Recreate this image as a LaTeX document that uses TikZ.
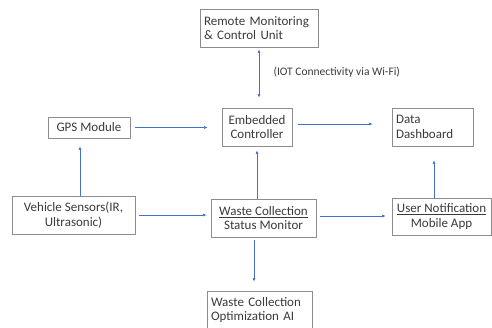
\documentclass[tikz,border=0pt]{standalone}
\usepackage{fontspec}
\setmainfont{Carlito}
\usepackage{xcolor}
\usepackage{tikz}
\usetikzlibrary{arrows.meta}
\definecolor{boxgray}{HTML}{8C8C8C}
\definecolor{txtgray}{HTML}{3A3A3A}
\definecolor{linkblue}{HTML}{4472C4}

\begin{document}
\begin{tikzpicture}[x=1pt, y=-1pt, font=\fontsize{13}{14.5}\selectfont, text=txtgray,
    blk/.style={draw=boxgray, line width=0.8pt, minimum height=38pt, inner sep=4pt, align=center},
    blkl/.style={blk, align=left},
    link/.style={draw=linkblue, line width=0.6pt, -{Latex[length=3.5pt,width=3pt]}},
    twoway/.style={link, {Latex[length=3.5pt,width=3pt]}-{Latex[length=3.5pt,width=3pt]}}]
    % canvas 492 x 327 px, y runs down
    \useasboundingbox (0,0) rectangle (492,327);
    % top row
    \node[blkl, text width=110pt] (remote) at (259,28) {Remote Monitoring\\\& Control Unit};
    \node[anchor=west, font=\fontsize{11.5}{13}\selectfont] (iot) at (270,72) {(IOT Connectivity via Wi-Fi)};
    % middle row
    \node[blk, minimum width=82pt, minimum height=21pt] (gps) at (89,127.5) {GPS Module};
    \node[blk, minimum width=70pt] (ctrl) at (257,127) {Embedded\\Controller};
    \node[blkl, text width=73pt] (dash) at (432.5,127) {Data\\Dashboard};
    % bottom row
    \node[blk, minimum width=123pt] (veh) at (73.5,215) {Vehicle Sensors(IR,\\Ultrasonic)};
    \node[blk, minimum width=105pt] (waste) at (263.5,218) {\underline{Waste Collection}\\Status Monitor};
    \node[blk, minimum width=99pt, minimum height=37pt] (user) at (441.5,216.5) {\underline{User Notification}\\Mobile App};
    \node[blkl, text width=97pt] (ai) at (259.5,310) {Waste Collection\\Optimization AI};
    % connectors
    \draw[twoway, shorten <=2pt, shorten >=10pt] (remote.south) -- (remote.south |- ctrl.north);
    \draw[link, shorten <=5pt, shorten >=14pt] (gps.east) -- (gps.east -| ctrl.west);
    \draw[link, shorten >=8pt] ([xshift=6.5pt]veh.north) -- ([xshift=6.5pt]veh.north |- gps.south);
    \draw[link, shorten <=4pt, shorten >=4pt] (veh.east) -- (veh.east -| waste.west);
    \draw[link, shorten >=4pt] ([xshift=-6.5pt]waste.north) -- ([xshift=-6.5pt]waste.north |- ctrl.south);
    \draw[link, shorten <=6pt, shorten >=19pt] ([yshift=3pt]ctrl.east) -- ([yshift=3pt]ctrl.east -| dash.west);
    \draw[link, shorten <=4pt, shorten >=6pt] ([yshift=2pt]waste.east) -- ([yshift=2pt]waste.east -| user.west);
    \draw[link, shorten >=14pt] ([xshift=-7.5pt]user.north) -- ([xshift=-7.5pt]user.north |- dash.south);
    \draw[link, shorten <=3pt, shorten >=9pt] ([xshift=-9.5pt]waste.south) -- ([xshift=-9.5pt]waste.south |- ai.north);
\end{tikzpicture}
\end{document}
